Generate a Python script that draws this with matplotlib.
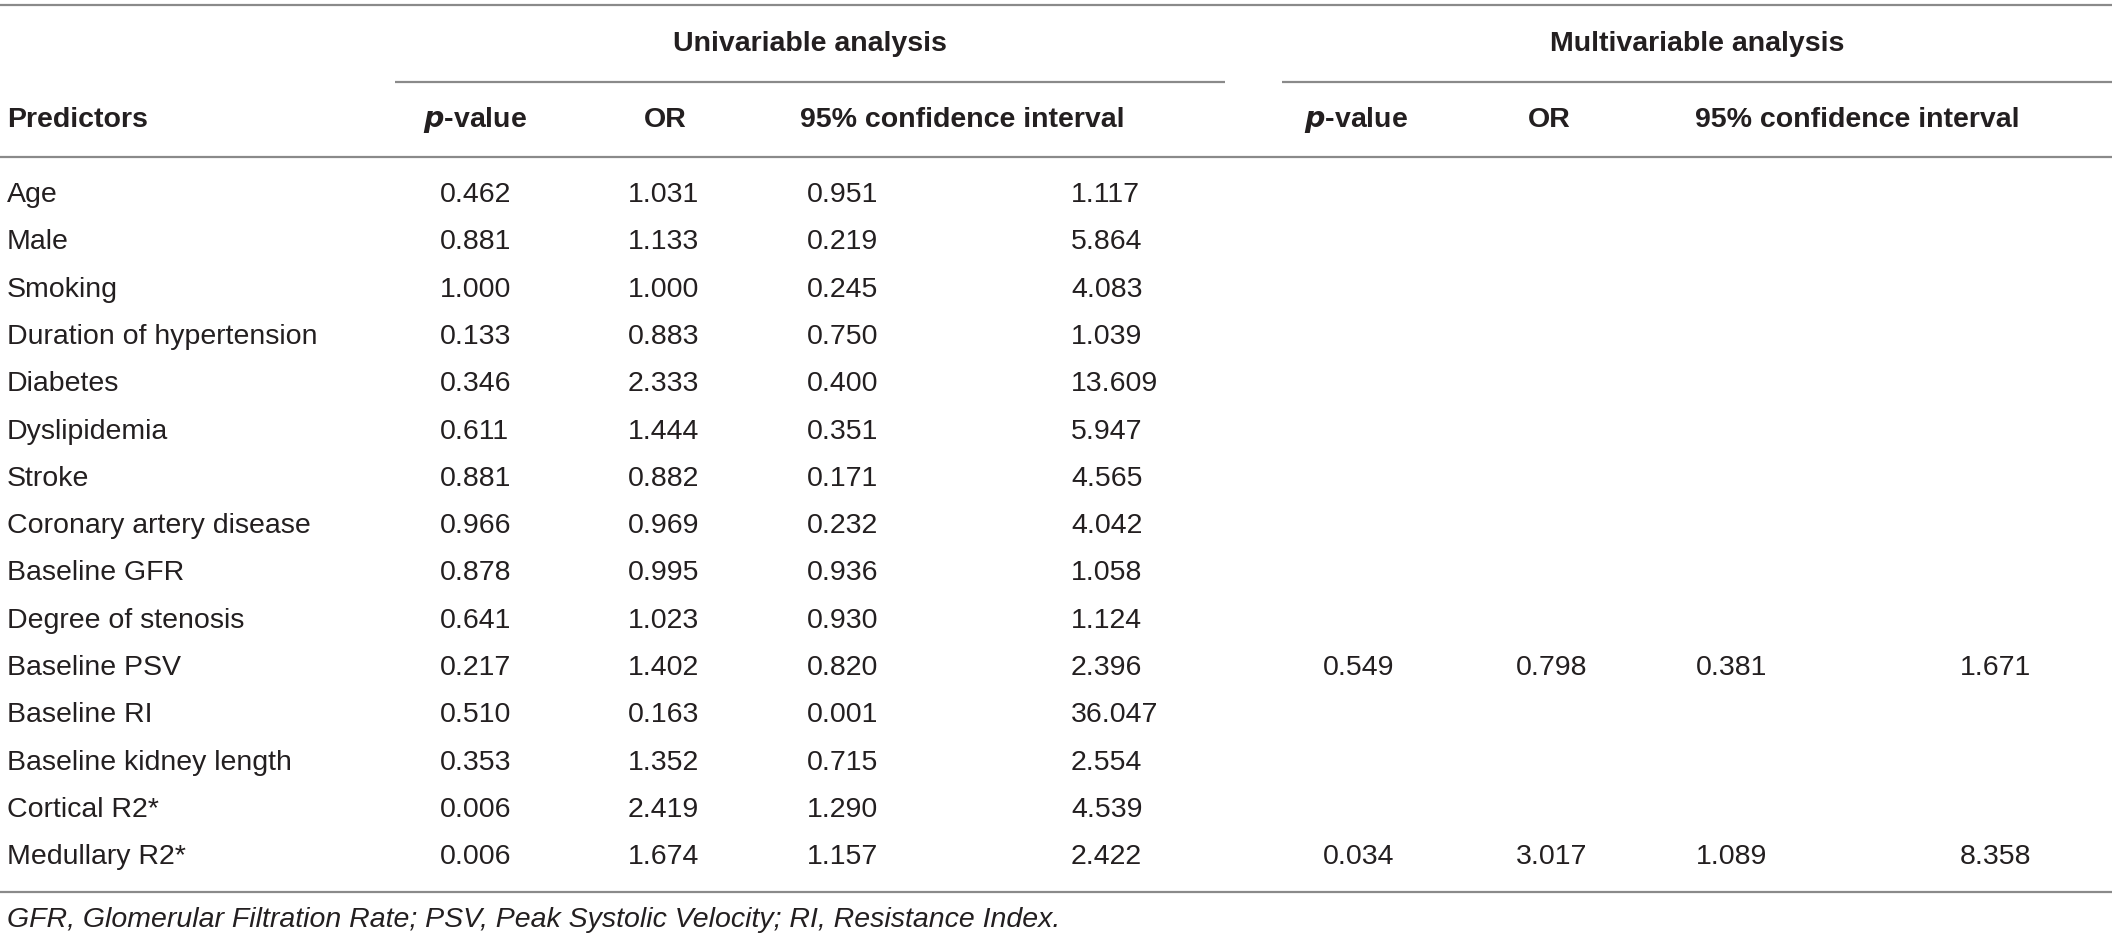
import matplotlib
matplotlib.use("Agg")
import matplotlib.pyplot as plt

# table content
predictors = ["Age", "Male", "Smoking", "Duration of hypertension", "Diabetes",
              "Dyslipidemia", "Stroke", "Coronary artery disease", "Baseline GFR",
              "Degree of stenosis", "Baseline PSV", "Baseline RI",
              "Baseline kidney length", "Cortical R2*", "Medullary R2*"]
uni_p = ["0.462", "0.881", "1.000", "0.133", "0.346", "0.611", "0.881", "0.966",
         "0.878", "0.641", "0.217", "0.510", "0.353", "0.006", "0.006"]
uni_or = ["1.031", "1.133", "1.000", "0.883", "2.333", "1.444", "0.882", "0.969",
          "0.995", "1.023", "1.402", "0.163", "1.352", "2.419", "1.674"]
uni_lo = ["0.951", "0.219", "0.245", "0.750", "0.400", "0.351", "0.171", "0.232",
          "0.936", "0.930", "0.820", "0.001", "0.715", "1.290", "1.157"]
uni_hi = ["1.117", "5.864", "4.083", "1.039", "13.609", "5.947", "4.565", "4.042",
          "1.058", "1.124", "2.396", "36.047", "2.554", "4.539", "2.422"]
# multivariable results only for two predictors
multi = {"Baseline PSV": ["0.549", "0.798", "0.381", "1.671"],
         "Medullary R2*": ["0.034", "3.017", "1.089", "8.358"]}

footnote = "GFR, Glomerular Filtration Rate; PSV, Peak Systolic Velocity; RI, Resistance Index."

W, H = 2118, 941
fs = 20.5
font = "Liberation Sans"
txt_col = "#231f20"
line_col = "#8a8a8a"

fig = plt.figure(figsize=(W / 100, H / 100), dpi=100)
ax = fig.add_axes([0, 0, 1, 1])
ax.set_xlim(0, W)
ax.set_ylim(H, 0)
ax.axis("off")

def hline(x0, x1, y):
    ax.plot([x0, x1], [y, y], color=line_col, lw=1.6, solid_capstyle="butt")

hline(0, 2112, 5)
hline(395, 1225, 82)
hline(1282, 2112, 82)
hline(0, 2112, 157)
hline(0, 2112, 892)

# group headers
ax.text(810, 44, "Univariable analysis", ha="center", va="center", fontsize=fs,
        fontweight="bold", family=font, color=txt_col)
ax.text(1697, 44, "Multivariable analysis", ha="center", va="center", fontsize=fs,
        fontweight="bold", family=font, color=txt_col)

# column headers
hy = 120
ax.text(7, hy, "Predictors", ha="left", va="center", fontsize=fs, fontweight="bold",
        family=font, color=txt_col)
for cx in (475, 1356):
    ax.text(cx, hy, r"$\mathbfit{p}$" + "-value", ha="center", va="center", fontsize=fs,
            fontweight="bold", family=font, color=txt_col)
for cx in (665, 1549):
    ax.text(cx, hy, "OR", ha="center", va="center", fontsize=fs, fontweight="bold",
            family=font, color=txt_col)
for lx in (800, 1695):
    ax.text(lx, hy, "95% confidence interval", ha="left", va="center", fontsize=fs,
            fontweight="bold", family=font, color=txt_col)

plt.rcParams["mathtext.fontset"] = "custom"
plt.rcParams["mathtext.bfit"] = "Liberation Sans:italic:bold"

# body
y0, dy = 195, 47.3
uni_x = [440, 628, 807, 1071]
multi_x = [1323, 1516, 1696, 1960]
for i, name in enumerate(predictors):
    y = y0 + i * dy
    ax.text(7, y, name, ha="left", va="center", fontsize=fs, family=font, color=txt_col)
    for x, col in zip(uni_x, (uni_p, uni_or, uni_lo, uni_hi)):
        ax.text(x, y, col[i], ha="left", va="center", fontsize=fs, family=font, color=txt_col)
    if name in multi:
        for x, v in zip(multi_x, multi[name]):
            ax.text(x, y, v, ha="left", va="center", fontsize=fs, family=font, color=txt_col)

ax.text(7, 920, footnote, ha="left", va="center", fontsize=fs, style="italic",
        family=font, color=txt_col)

fig.savefig("out.png", dpi=100, facecolor="white")
